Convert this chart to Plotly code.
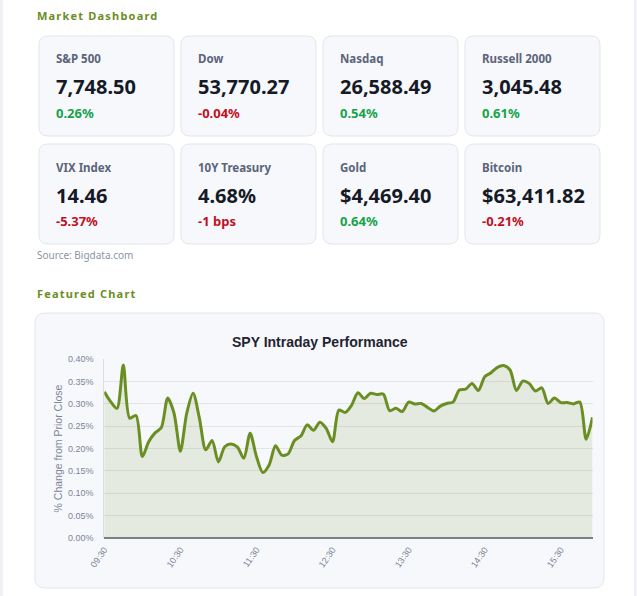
import pandas as pd
import plotly.graph_objects as go

# Dashboard cards:
card_names = ["S&P 500", "Dow", "Nasdaq", "Russell 2000",
              "VIX Index", "10Y Treasury", "Gold", "Bitcoin"]
card_values = ["7,748.50", "53,770.27", "26,588.49", "3,045.48",
               "14.46", "4.68%", "$4,469.40", "$63,411.82"]
card_changes = ["0.26%", "-0.04%", "0.54%", "0.61%",
                "-5.37%", "-1 bps", "0.64%", "-0.21%"]

# SPY intraday, 5 minute steps from 09:30, % change from prior close:
spy_times = pd.date_range("2024-01-02 09:30", periods=78, freq="5min").strftime("%H:%M").tolist()
spy_change = [0.327, 0.305, 0.290, 0.387, 0.268, 0.274, 0.182, 0.215, 0.235, 0.247,
              0.313, 0.279, 0.194, 0.279, 0.324, 0.268, 0.197, 0.218, 0.170, 0.204,
              0.210, 0.203, 0.178, 0.234, 0.182, 0.146, 0.163, 0.206, 0.185, 0.188,
              0.218, 0.228, 0.253, 0.241, 0.259, 0.245, 0.215, 0.286, 0.281, 0.297,
              0.325, 0.312, 0.324, 0.321, 0.322, 0.285, 0.290, 0.283, 0.304, 0.300,
              0.301, 0.292, 0.284, 0.295, 0.301, 0.304, 0.331, 0.333, 0.346, 0.330,
              0.361, 0.370, 0.382, 0.386, 0.376, 0.330, 0.351, 0.346, 0.329, 0.336,
              0.301, 0.313, 0.303, 0.303, 0.300, 0.304, 0.221, 0.270]
x_ticks = ["09:30", "10:30", "11:30", "12:30", "13:30", "14:30", "15:30"]
y_ticks = [0, 0.05, 0.10, 0.15, 0.20, 0.25, 0.30, 0.35, 0.40]

W, H = 637, 596
GREEN = "#6b8e23"
CARD_FONT = "Noto Sans, Open Sans, sans-serif"
CHART_FONT = "Liberation Sans, Arial, sans-serif"

def px(x):
    return x / W

def py(y):
    return 1 - y / H

def rrect(x0, y0, x1, y1, r):
    # rounded rectangle path in paper coordinates (input in pixels)
    pts = [("M", x0 + r, y0), ("L", x1 - r, y0), ("Q", x1, y0, x1, y0 + r),
           ("L", x1, y1 - r), ("Q", x1, y1, x1 - r, y1), ("L", x0 + r, y1),
           ("Q", x0, y1, x0, y1 - r), ("L", x0, y0 + r), ("Q", x0, y0, x0 + r, y0)]
    out = ""
    for p in pts:
        coords = p[1:]
        s = " ".join(f"{px(coords[i]):.5f},{py(coords[i + 1]):.5f}" for i in range(0, len(coords), 2))
        out += p[0] + s + " "
    return out + "Z"

fig = go.Figure()

fig.add_trace(go.Scatter(x=spy_times, y=spy_change, mode="lines",
                         line=dict(color=GREEN, width=3, shape="spline", smoothing=0.8),
                         fill="tozeroy", fillcolor="rgba(107,142,35,0.13)",
                         showlegend=False, hoverinfo="x+y"))

shapes = []
annotations = []

# page edges
shapes.append(dict(type="rect", xref="paper", yref="paper", x0=0, x1=px(3), y0=0, y1=1,
                   fillcolor="#f0f1f5", line_width=0, layer="below"))
shapes.append(dict(type="rect", xref="paper", yref="paper", x0=px(634), x1=1, y0=0, y1=1,
                   fillcolor="#f0f1f5", line_width=0, layer="below"))

def section_title(text, y):
    annotations.append(dict(x=px(35), y=py(y), xref="paper", yref="paper",
                            xanchor="left", yanchor="middle", showarrow=False,
                            text=f"<b><span style='letter-spacing:1.2px'>{text}</span></b>",
                            font=dict(family=CARD_FONT, size=11, color=GREEN)))

section_title("Market Dashboard", 16)
section_title("Featured Chart", 293)

# cards
card_x = [39, 181, 323, 465]
row_y = [36, 144]
for i, name in enumerate(card_names):
    cx = card_x[i % 4]
    cy = row_y[i // 4]
    shapes.append(dict(type="path", xref="paper", yref="paper", path=rrect(cx, cy, cx + 135, cy + 100, 9),
                       fillcolor="#f7f8fc", line=dict(color="#e3e6ee", width=1), layer="below"))
    neg = card_changes[i].startswith("-")
    for text, dy, size, color, weight in [
            (name, 23, 11.5, "#5b6479", 700),
            (card_values[i], 51, 20, "#161a26", 700),
            (card_changes[i], 77, 13, "#c0111f" if neg else "#16a34a", 700)]:
        annotations.append(dict(x=px(cx + 15), y=py(cy + dy), xref="paper", yref="paper",
                                xanchor="left", yanchor="middle", showarrow=False, text=text,
                                font=dict(family=CARD_FONT, size=size, color=color, weight=weight)))

annotations.append(dict(x=px(35), y=py(255), xref="paper", yref="paper",
                        xanchor="left", yanchor="middle", showarrow=False, text="Source: Bigdata.com",
                        font=dict(family=CARD_FONT, size=10, color="#8b95a5")))

# chart panel
shapes.append(dict(type="path", xref="paper", yref="paper", path=rrect(35, 313, 604, 588, 10),
                   fillcolor="#f7f8fc", line=dict(color="#e3e6ee", width=1), layer="below"))
annotations.append(dict(x=px(319.5), y=py(342), xref="paper", yref="paper",
                        xanchor="center", yanchor="middle", showarrow=False,
                        text="<b>SPY Intraday Performance</b>",
                        font=dict(family=CHART_FONT, size=14, color="#1f2430")))

fig.update_layout(
    width=W, height=H,
    margin=dict(l=0, r=0, t=0, b=0),
    paper_bgcolor="white",
    plot_bgcolor="rgba(0,0,0,0)",
    shapes=shapes,
    annotations=annotations,
    xaxis=dict(domain=[px(104.3), px(592.5)], type="category", automargin=False,
               range=[0, len(spy_times) - 1],
               tickmode="array", tickvals=x_ticks, ticktext=x_ticks,
               tickangle=-55, showgrid=False, zeroline=False, showline=False,
               tickfont=dict(family=CHART_FONT, size=9, color="#7b8496"),
               ticklabelstandoff=4),
    yaxis=dict(domain=[py(537.7), py(359.3)], range=[0, 0.40], automargin=False,
               tickmode="array", tickvals=y_ticks,
               ticktext=[f"{v:.2f}%" for v in y_ticks],
               showgrid=True, gridcolor="#e2e4ea", gridwidth=1,
               zeroline=True, zerolinecolor="#7d7f86", zerolinewidth=1.5,
               showline=True, linecolor="#dcdee4", linewidth=1,
               tickfont=dict(family=CHART_FONT, size=9, color="#7b8496"),
               ticklabelstandoff=8,
               title=dict(text="% Change from Prior Close", standoff=3,
                          font=dict(family=CHART_FONT, size=10.5, color="#7b8496"))),
)

fig.write_html("out.html", config={"displayModeBar": False},
               post_script="document.body.style.margin='0';document.body.style.overflow='hidden';")
